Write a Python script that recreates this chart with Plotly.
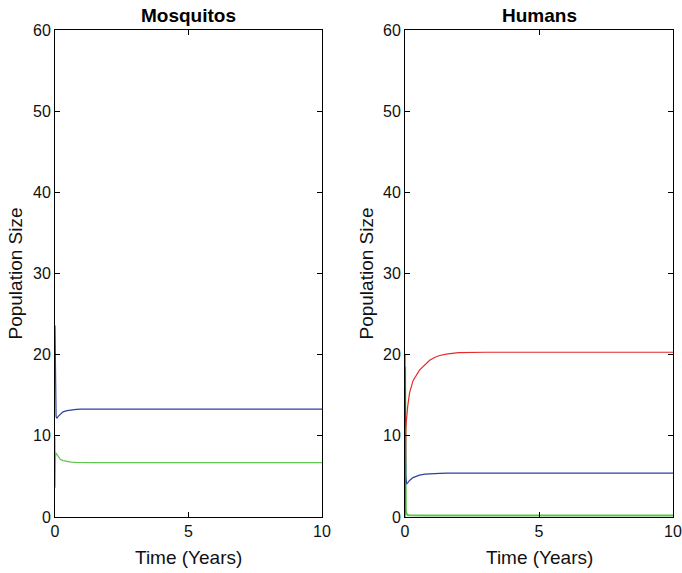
import plotly.graph_objects as go

# Mosquitos
t_m = [0, 0.005, 0.01, 0.02, 0.04, 0.06, 0.08, 0.12, 0.2, 0.3, 0.45, 0.6, 0.8, 1.0, 1.5, 2, 3, 5, 10]
m_blue = [23.6, 20.0, 16.5, 13.5, 12.4, 12.2, 12.2, 12.4, 12.7, 12.95, 13.1, 13.2, 13.25, 13.28, 13.3, 13.3, 13.3, 13.3, 13.3]
t_mg = [0, 0.004, 0.008, 0.015, 0.03, 0.05, 0.08, 0.12, 0.2, 0.3, 0.45, 0.6, 0.8, 1.0, 1.5, 2, 3, 5, 10]
m_green = [9.9, 3.6, 5.5, 7.2, 7.9, 7.8, 7.6, 7.35, 7.1, 6.95, 6.82, 6.76, 6.72, 6.7, 6.7, 6.7, 6.7, 6.7, 6.7]

# Humans
t_h = [0, 0.005, 0.01, 0.02, 0.03, 0.05, 0.07, 0.1, 0.17, 0.3, 0.54, 0.75, 0.92, 1.1, 1.29, 1.6, 2, 3, 5, 10]
h_red = [0, 4.5, 7.5, 9.5, 10.7, 11.8, 12.6, 13.6, 15.3, 16.8, 18.1, 18.8, 19.3, 19.65, 19.9, 20.1, 20.25, 20.3, 20.3, 20.3]
h_blue = [18.5, 14.0, 10.0, 6.5, 5.0, 4.3, 4.1, 4.2, 4.5, 4.85, 5.15, 5.28, 5.33, 5.36, 5.38, 5.4, 5.4, 5.4, 5.4, 5.4]
h_green = [20.0, 12.0, 6.0, 2.0, 0.8, 0.4, 0.3, 0.25, 0.22, 0.2, 0.2, 0.2, 0.2, 0.2, 0.2, 0.2, 0.2, 0.2, 0.2, 0.2]

x_ticks = [0, 5, 10]
y_ticks = [0, 10, 20, 30, 40, 50, 60]

BLUE = "#2c409c"
GREEN = "#5cc64c"
RED = "#e52a2a"

fig = go.Figure()
fig.add_trace(go.Scatter(x=t_m, y=m_blue, mode="lines", line=dict(color=BLUE, width=1.2), xaxis="x", yaxis="y"))
fig.add_trace(go.Scatter(x=t_mg, y=m_green, mode="lines", line=dict(color=GREEN, width=1.2), xaxis="x", yaxis="y"))
fig.add_trace(go.Scatter(x=t_h, y=h_green, mode="lines", line=dict(color=GREEN, width=2), xaxis="x2", yaxis="y2"))
fig.add_trace(go.Scatter(x=t_h, y=h_blue, mode="lines", line=dict(color=BLUE, width=1.2), xaxis="x2", yaxis="y2"))
fig.add_trace(go.Scatter(x=t_h, y=h_red, mode="lines", line=dict(color=RED, width=1.2), xaxis="x2", yaxis="y2"))

FAM = "Liberation Sans, Arial, sans-serif"
tickfont = dict(family=FAM, size=16, color="#111111")
labfont = dict(family=FAM, size=19, color="#111111")
titlefont = dict(family=FAM, size=19, color="black")

xax = dict(range=[0, 10], tickvals=x_ticks, ticks="inside", ticklen=5, tickcolor="black",
           showline=True, linecolor="black", linewidth=1, mirror="ticks", showgrid=False,
           zeroline=False, tickfont=tickfont, automargin=False)
yax = dict(range=[0, 60], tickvals=y_ticks, ticks="inside", ticklen=5, tickcolor="black",
           showline=True, linecolor="black", linewidth=1, mirror="ticks", showgrid=False,
           zeroline=False, tickfont=tickfont, automargin=False)

d1 = [55 / 682, 322 / 682]
d2 = [405 / 682, 673 / 682]
dy = [1 - 517 / 573, 1 - 30 / 573]

fig.update_layout(
    width=682, height=573,
    margin=dict(l=0, r=0, t=0, b=0, pad=0),
    paper_bgcolor="white", plot_bgcolor="white",
    showlegend=False,
    xaxis=dict(xax, domain=d1, anchor="y"),
    yaxis=dict(yax, domain=dy, anchor="x"),
    xaxis2=dict(xax, domain=d2, anchor="y2"),
    yaxis2=dict(yax, domain=dy, anchor="x2"),
    font=tickfont,
)

ann = []
for cx, title in [((d1[0] + d1[1]) / 2, "Mosquitos"), ((d2[0] + d2[1]) / 2, "Humans")]:
    ann.append(dict(x=cx, y=1 - 16 / 573, xref="paper", yref="paper", text="<b>" + title + "</b>",
                    showarrow=False, font=titlefont, xanchor="center", yanchor="middle"))
    ann.append(dict(x=cx, y=1 - 557 / 573, xref="paper", yref="paper", text="Time (Years)",
                    showarrow=False, font=labfont, xanchor="center", yanchor="middle"))
for px in [15, 366]:
    ann.append(dict(x=px / 682, y=(dy[0] + dy[1]) / 2, xref="paper", yref="paper", text="Population Size",
                    showarrow=False, font=labfont, textangle=-90, xanchor="center", yanchor="middle"))
fig.update_layout(annotations=ann)

fig.write_html("out.html")
